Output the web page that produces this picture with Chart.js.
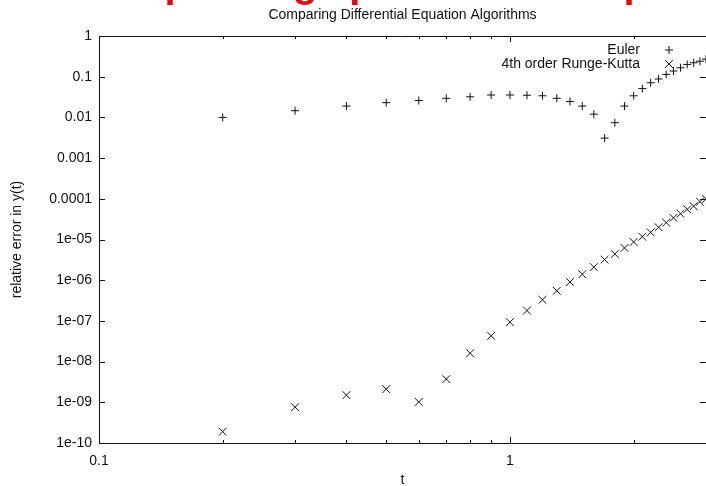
<!DOCTYPE html>
<html>
<head>
<meta charset="utf-8">
<script src="https://cdn.jsdelivr.net/npm/chart.js@4/dist/chart.umd.min.js"></script>
<style>
  body { margin: 0; background: #fff; }
  #wrap { position: relative; width: 706px; height: 486px; overflow: hidden; background: #fff; }
  .red { position: absolute; top: -39px; font: bold 40px 'Liberation Sans', Arial, sans-serif; color: #d81010; white-space: nowrap; }
</style>
</head>
<body>
<div id="wrap">
  <span class="red" style="left:80px">Sample</span>
  <span class="red" style="left:293px; letter-spacing:-2px">graph</span>
  <span class="red" style="left:599px">up</span>
  <canvas id="errChart" width="706" height="486"></canvas>
</div>
<script>
// data
var tValues = [0.2, 0.3, 0.4, 0.5, 0.6, 0.7, 0.8, 0.9, 1.0, 1.1, 1.2, 1.3, 1.4, 1.5, 1.6,
               1.7, 1.8, 1.9, 2.0, 2.1, 2.2, 2.3, 2.4, 2.5, 2.6, 2.7, 2.8, 2.9, 3.0];
var eulerError = [0.01, 0.0146, 0.019, 0.023, 0.026, 0.0294, 0.032, 0.0355, 0.0355, 0.035,
                  0.034, 0.0295, 0.0245, 0.019, 0.012, 0.0031, 0.0074, 0.019, 0.034, 0.051,
                  0.071, 0.088, 0.114, 0.138, 0.166, 0.2, 0.22, 0.24, 0.27];
var rkError = [1.9e-10, 7.6e-10, 1.5e-9, 2.1e-9, 1.02e-9, 3.7e-9, 1.6e-8, 4.3e-8, 9.3e-8, 1.8e-7,
               3.3e-7, 5.5e-7, 9.0e-7, 1.4e-6, 2.1e-6, 3.2e-6, 4.4e-6, 6.2e-6, 8.7e-6, 1.17e-5,
               1.5e-5, 2.0e-5, 2.6e-5, 3.4e-5, 4.3e-5, 5.5e-5, 6.6e-5, 8.5e-5, 1.0e-4];
var seriesNames = ['Euler', '4th order Runge-Kutta'];

var yTickValues = [1e-10, 1e-9, 1e-8, 1e-7, 1e-6, 1e-5, 1e-4, 1e-3, 1e-2, 1e-1, 1];
var yTickLabels = ['1e-10', '1e-09', '1e-08', '1e-07', '1e-06', '1e-05', '0.0001', '0.001', '0.01', '0.1', '1'];
var xTickValues = [0.1, 0.2, 0.3, 0.4, 0.5, 0.6, 0.7, 0.8, 0.9, 1, 2, 3];
var xTickLabels = ['0.1', '', '', '', '', '', '', '', '', '1', '', ''];
var xMajor = [0.1, 1];

var ink = '#111';
Chart.defaults.font.family = "'Liberation Sans', Arial, Helvetica, sans-serif";
Chart.defaults.font.size = 14;
Chart.defaults.color = ink;

function toPoints(xs, ys) {
  var pts = [];
  for (var i = 0; i < xs.length; i++) pts.push({ x: xs[i], y: ys[i] });
  return pts;
}

// gnuplot-ish frame: top border, inward ticks, title and legend
var gnuFrame = {
  id: 'gnuFrame',
  afterDraw: function (chart) {
    var ctx = chart.ctx, a = chart.chartArea;
    var xs = chart.scales.x, ys = chart.scales.y;
    ctx.save();
    ctx.strokeStyle = ink;
    ctx.lineWidth = 1;
    ctx.beginPath();
    ctx.moveTo(a.left, a.top + 0.5);
    ctx.lineTo(a.right, a.top + 0.5);
    xTickValues.forEach(function (v) {
      var px = Math.round(xs.getPixelForValue(v)) + 0.5;
      var len = xMajor.indexOf(v) >= 0 ? 6 : 3;
      ctx.moveTo(px, a.bottom); ctx.lineTo(px, a.bottom - len);
      ctx.moveTo(px, a.top); ctx.lineTo(px, a.top + len);
    });
    yTickValues.forEach(function (v) {
      var py = Math.round(ys.getPixelForValue(v)) + 0.5;
      ctx.moveTo(a.left, py); ctx.lineTo(a.left + 6, py);
      ctx.moveTo(a.right, py); ctx.lineTo(a.right - 6, py);
    });
    ctx.stroke();

    // title over the plot area
    ctx.fillStyle = ink;
    ctx.font = "14px 'Liberation Sans', Arial, sans-serif";
    ctx.textAlign = 'center';
    ctx.textBaseline = 'middle';
    ctx.fillText('Comparing Differential Equation Algorithms', (a.left + a.right) / 2, 15);

    // legend, text right aligned then symbol
    ctx.textAlign = 'right';
    var symX = 669, textX = 640;
    seriesNames.forEach(function (name, i) {
      var y = 50 + i * 14;
      ctx.fillText(name, textX, y);
      var ds = chart.data.datasets[i];
      Chart.helpers.drawPoint(ctx, {
        pointStyle: ds.pointStyle, radius: ds.pointRadius, borderWidth: 1, rotation: 0
      }, symX, y);
    });
    ctx.restore();
  }
};

var ctx = document.getElementById('errChart').getContext('2d');
var errChart = new Chart(ctx, {
  type: 'scatter',
  data: {
    datasets: [{
      label: seriesNames[0],
      data: toPoints(tValues, eulerError),
      pointStyle: 'cross',
      pointRadius: 4,
      borderColor: ink,
      backgroundColor: ink,
      borderWidth: 1
    }, {
      label: seriesNames[1],
      data: toPoints(tValues, rkError),
      pointStyle: 'crossRot',
      pointRadius: 5.5,
      borderColor: ink,
      backgroundColor: ink,
      borderWidth: 1
    }]
  },
  options: {
    responsive: false,
    animation: false,
    layout: { autoPadding: false, padding: { left: 0, right: 0, top: 36, bottom: 0 } },
    plugins: { legend: { display: false }, tooltip: { enabled: false }, title: { display: false } },
    scales: {
      x: {
        type: 'logarithmic',
        min: 0.1,
        max: 3,
        grid: { display: false, drawTicks: false },
        border: { display: true, color: ink, width: 1 },
        afterBuildTicks: function (scale) {
          scale.ticks = xTickValues.map(function (v) { return { value: v }; });
        },
        afterFit: function (scale) {
          scale.height = 43;
          scale.paddingRight = 0;
          scale.paddingLeft = 0;
        },
        ticks: {
          autoSkip: false,
          maxRotation: 0,
          padding: 10,
          color: ink,
          font: { size: 14 },
          callback: function (value, index) { return xTickLabels[index]; }
        },
        title: { display: true, text: 't', color: ink, font: { size: 14 }, padding: { top: 0, bottom: -3 } }
      },
      y: {
        type: 'logarithmic',
        min: 1e-10,
        max: 1,
        grid: { display: false, drawTicks: false },
        border: { display: true, color: ink, width: 1 },
        afterBuildTicks: function (scale) {
          scale.ticks = yTickValues.map(function (v) { return { value: v }; });
        },
        afterFit: function (scale) { scale.width = 99; },
        ticks: {
          autoSkip: false,
          padding: 7,
          color: ink,
          font: { size: 14 },
          callback: function (value, index) { return yTickLabels[index]; }
        },
        title: { display: true, text: 'relative error in y(t)', color: ink, font: { size: 14 }, padding: { top: 9, bottom: 0 } }
      }
    }
  },
  plugins: [gnuFrame]
});
</script>
</body>
</html>
